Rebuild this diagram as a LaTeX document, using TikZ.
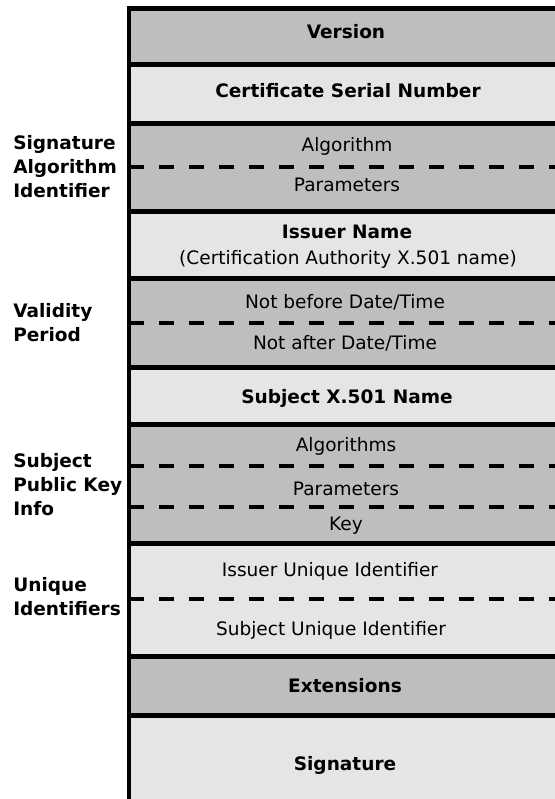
\documentclass[tikz,border=0pt]{standalone}
\usepackage{fontspec}
\setmainfont{DejaVu Sans}
\definecolor{fielddark}{gray}{0.745}
\definecolor{fieldlight}{gray}{0.898}
\begin{document}
\begin{tikzpicture}[x=0.75pt,y=-0.75pt,
  every node/.style={inner sep=0pt, font=\fontsize{13.9pt}{18pt}\selectfont},
  fieldtxt/.style={anchor=base},
  fieldbold/.style={anchor=base, font=\fontsize{13.9pt}{18pt}\selectfont\bfseries},
  % placed at the baseline of the last line
  sidelabel/.style={anchor=base west, align=left, font=\fontsize{13.9pt}{18pt}\selectfont\bfseries},
  sepline/.style={line width=3.75pt},
  subline/.style={line width=3pt, dash pattern=on 11.25pt off 11.25pt},
]
\useasboundingbox (0,0) rectangle (555,799);

% field backgrounds, top to bottom
\fill[fielddark]  (129,8.5)   rectangle (555,64.5);
\fill[fieldlight] (129,64.5)  rectangle (555,123);
\fill[fielddark]  (129,123)   rectangle (555,211.5);
\fill[fieldlight] (129,211.5) rectangle (555,278.5);
\fill[fielddark]  (129,278.5) rectangle (555,367.5);
\fill[fieldlight] (129,367.5) rectangle (555,424.5);
\fill[fielddark]  (129,424.5) rectangle (555,543);
\fill[fieldlight] (129,543)   rectangle (555,656.5);
\fill[fielddark]  (129,656.5) rectangle (555,715);
\fill[fieldlight] (129,715)   rectangle (555,799);

% dashed lines splitting compound fields
\foreach \yy in {167,323,466,507,599}
  \draw[subline] (129,\yy) -- (555,\yy);

% solid separators between fields
\foreach \yy in {64.5,123,211.5,278.5,367.5,424.5,543,656.5,715}
  \draw[sepline] (129,\yy) -- (555,\yy);
\draw[sepline] (126.7,8.5) -- (555,8.5);
\draw[line width=3.45pt] (129,6) -- (129,799);

% field contents
\node[fieldbold] (version) at (346,39)    {Version};
\node[fieldbold] (serial)  at (348,97.7)  {Certificate Serial Number};
\node[fieldtxt]  (sigalg)  at (347,151.8) {Algorithm};
\node[fieldtxt]  (sigpar)  at (347,191.8) {Parameters};
\node[fieldbold] (issuer)  at (347,238.3) {Issuer Name};
\node[fieldtxt]  (issca)   at (348,264.5) {(Certification Authority X.501 name)};
\node[fieldtxt]  (notbef)  at (345,308.5) {Not before Date/Time};
\node[fieldtxt]  (notaft)  at (345,349.2) {Not after Date/Time};
\node[fieldbold] (subject) at (347,403.5) {Subject X.501 Name};
\node[fieldtxt]  (pkalg)   at (346,451.8) {Algorithms};
\node[fieldtxt]  (pkpar)   at (346,495)   {Parameters};
\node[fieldtxt]  (pkkey)   at (346,530)   {Key};
\node[fieldtxt]  (issuid)  at (330,576.8) {Issuer Unique Identifier};
\node[fieldtxt]  (subuid)  at (331,635.8) {Subject Unique Identifier};
\node[fieldbold] (ext)     at (345,692.3) {Extensions};
\node[fieldbold] (sig)     at (345,770.7) {Signature};

% group labels on the left
\node[sidelabel] (lsigalg)   at (13,197.8) {Signature\\Algorithm\\Identifier};
\node[sidelabel] (lvalidity) at (13,341.8) {Validity\\Period};
\node[sidelabel] (lspki)     at (13,515.5) {Subject\\Public Key\\Info};
\node[sidelabel] (luid)      at (13,615.5) {Unique\\Identifiers};
\end{tikzpicture}
\end{document}
